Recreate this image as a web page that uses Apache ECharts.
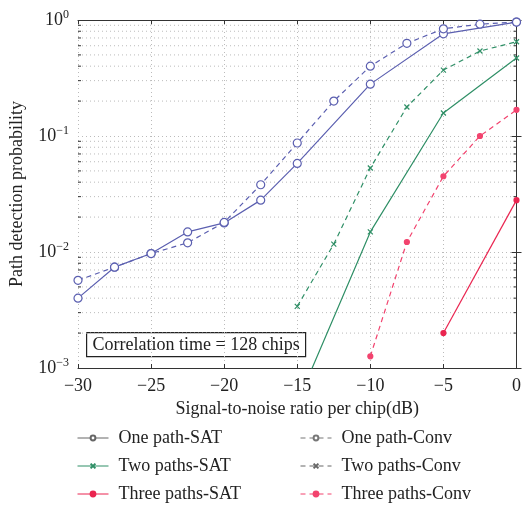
<!DOCTYPE html>
<html><head><meta charset="utf-8">
<script src="https://cdn.jsdelivr.net/npm/echarts@6/dist/echarts.min.js"></script>
<style>html,body{margin:0;padding:0;background:#fff}#c{width:524px;height:505px}</style>
</head><body><div id="c"></div>
<script>
// ---- data ----
const snrOneSAT = [-30, -27.5, -25, -22.5, -20, -17.5, -15, -10, -5, 0];
const oneSAT    = [0.0040, 0.0074, 0.0097, 0.0149, 0.0178, 0.028, 0.058, 0.28, 0.76, 0.96];
const snrOneConv = [-30, -27.5, -25, -22.5, -20, -17.5, -15, -12.5, -10, -7.5, -5, -2.5, 0];
const oneConv    = [0.0057, 0.0074, 0.0097, 0.0120, 0.0180, 0.038, 0.087, 0.20, 0.40, 0.63, 0.84, 0.92, 0.96];
const snrTwoSAT = [-15, -10, -5, 0];
const twoSAT    = [0.0005, 0.0149, 0.158, 0.47];
const snrTwoConv = [-15, -12.5, -10, -7.5, -5, -2.5, 0];
const twoConv    = [0.0034, 0.0117, 0.053, 0.178, 0.37, 0.54, 0.65];
const snrThreeSAT = [-5, 0];
const threeSAT    = [0.0020, 0.028];
const snrThreeConv = [-10, -7.5, -5, -2.5, 0];
const threeConv    = [0.00126, 0.0122, 0.045, 0.10, 0.168];
const xTicks = [-30, -25, -20, -15, -10, -5, 0];
const yTicks = [0.001, 0.01, 0.1, 1];
const minorY = [2,3,4,5,6,7,8,9].flatMap(m => [m*0.001, m*0.01, m*0.1]);
const names = ['One path-SAT','Two paths-SAT','Three paths-SAT','One path-Conv','Two paths-Conv','Three paths-Conv'];

const FONT = '"Liberation Serif", "DejaVu Serif", serif';
const FS = 18;
const BLUE = '#5b5fb0', GREEN = '#2f8f66', RED = '#ea2550', PINK = '#f2436e';
const pairs = (xs, ys) => xs.map((x, i) => [x, ys[i]]);
const XSYM = 'path://M0 0L10 10M10 0L0 10';

function lineSeries(name, xs, ys, color, dashed, symbol, size, hollow) {
  return {
    name, type: 'line', data: pairs(xs, ys), xAxisIndex: 0, yAxisIndex: 0,
    symbol, symbolSize: size, showAllSymbol: true, clip: true,
    lineStyle: { color, width: 1.2, type: dashed ? [5, 4] : 'solid' },
    itemStyle: { color: hollow ? '#fff' : color, borderColor: color, borderWidth: 1.2 },
    emphasis: { disabled: true }, z: 5
  };
}

const chart = echarts.init(document.getElementById('c'), null, { renderer: 'canvas' });
const supLabel = v => {
  const e = Math.round(Math.log10(v));
  return '{b|10}{s|' + (e === 0 ? '0' : '\u2212' + (-e)) + '}';
};
const richY = {
  b: { fontFamily: FONT, fontSize: FS, color: '#222' },
  s: { fontFamily: FONT, fontSize: 12, color: '#222', padding: [0, 0, 10, 0] }
};

// legend entries: [name, left, top, override]
const legendSpec = [
  [names[0], 72, 424, { itemStyle: { color: '#fff', borderColor: '#666' }, lineStyle: { color: '#666' } }],
  [names[1], 72, 452, {}],
  [names[2], 72, 480, {}],
  [names[3], 295, 424, { itemStyle: { color: '#fff', borderColor: '#777' }, lineStyle: { color: '#777' } }],
  [names[4], 295, 452, { itemStyle: { color: '#666', borderColor: '#666' }, lineStyle: { color: '#666' } }],
  [names[5], 295, 480, {}]
];
const legends = legendSpec.map(([n, l, t, o]) => ({
  orient: 'vertical', left: l, top: t, itemWidth: 31, itemHeight: 6, itemGap: 0,
  selectedMode: false,
  lineStyle: { width: 1 },
  textStyle: { fontFamily: FONT, fontSize: FS, color: '#222', padding: [0, 0, 0, 5] },
  data: [Object.assign({ name: n }, o)]
}));

chart.setOption({
  animation: false,
  backgroundColor: '#fff',
  grid: { left: 78, right: 5, top: 20, bottom: 137 },
  xAxis: [{
    type: 'value', min: -30, max: 0, interval: 5, position: 'bottom',
    name: 'Signal-to-noise ratio per chip(dB)', nameLocation: 'middle', nameGap: 32,
    nameTextStyle: { fontFamily: FONT, fontSize: FS, color: '#222' },
    axisLine: { show: true, lineStyle: { color: '#333', width: 1 } },
    axisTick: { show: true, inside: true, length: 4, lineStyle: { color: '#333' } },
    axisLabel: { fontFamily: FONT, fontSize: FS, color: '#222', margin: 9,
      formatter: v => String(v).replace('-', '\u2212') },
    splitLine: { show: true, lineStyle: { color: '#bbb', type: [1, 3], width: 1 } }
  }, {
    type: 'value', min: -30, max: 0, interval: 5, position: 'top',
    axisLine: { show: true, lineStyle: { color: '#333', width: 1 } },
    axisTick: { show: true, inside: true, length: 4, lineStyle: { color: '#333' } },
    axisLabel: { show: false }, splitLine: { show: false }
  }],
  yAxis: [{
    type: 'log', logBase: 10, min: 0.001, max: 1, position: 'left',
    name: 'Path detection probability', nameLocation: 'middle', nameGap: 52,
    nameTextStyle: { fontFamily: FONT, fontSize: FS, color: '#222' },
    axisLine: { show: true, lineStyle: { color: '#333', width: 1 } },
    axisTick: { show: true, inside: true, length: 5, lineStyle: { color: '#333' } },
    axisLabel: { formatter: supLabel, rich: richY, margin: 9 },
    splitLine: { show: true, lineStyle: { color: '#bbb', type: [1, 3], width: 1 } }
  }, {
    type: 'log', logBase: 10, min: 0.001, max: 1, position: 'right',
    axisLine: { show: true, lineStyle: { color: '#333', width: 1 } },
    axisTick: { show: true, inside: true, length: 5, lineStyle: { color: '#333' } },
    axisLabel: { show: false }, splitLine: { show: false }
  }],
  legend: legends,
  graphic: [{
    type: 'group', left: 86, top: 332, z: 20,
    children: [
      { type: 'rect', shape: { x: 0, y: 0, width: 219, height: 24 },
        style: { fill: '#fff', stroke: '#222', lineWidth: 1.2 } },
      { type: 'text', x: 109.5, y: 12.5,
        style: { text: 'Correlation time = 128 chips', font: FS + 'px ' + FONT, fill: '#222',
          textAlign: 'center', textVerticalAlign: 'middle' } }
    ]
  }],
  series: [
    {
      type: 'custom', name: 'minor', data: minorY.map(v => [-30, v]), silent: true, z: 1,
      renderItem: (params, api) => {
        const v = api.value(1);
        const p = api.coord([-30, v]), q = api.coord([0, v]);
        return { type: 'group', children: [
          { type: 'line', shape: { x1: p[0], y1: p[1], x2: q[0], y2: q[1] },
            style: { stroke: '#bbb', lineWidth: 1, lineDash: [1, 3] } },
          { type: 'line', shape: { x1: p[0], y1: p[1], x2: p[0] + 3, y2: p[1] },
            style: { stroke: '#333', lineWidth: 1 } },
          { type: 'line', shape: { x1: q[0], y1: q[1], x2: q[0] - 3, y2: q[1] },
            style: { stroke: '#333', lineWidth: 1 } }
        ] };
      }
    },
    lineSeries(names[0], snrOneSAT, oneSAT, BLUE, false, 'circle', 8, true),
    lineSeries(names[1], snrTwoSAT, twoSAT, GREEN, false, XSYM, 5, false),
    lineSeries(names[2], snrThreeSAT, threeSAT, RED, false, 'circle', 5, false),
    lineSeries(names[3], snrOneConv, oneConv, BLUE, true, 'circle', 8, true),
    lineSeries(names[4], snrTwoConv, twoConv, GREEN, true, XSYM, 5, false),
    lineSeries(names[5], snrThreeConv, threeConv, PINK, true, 'circle', 5, false)
  ]
});
</script></body></html>
